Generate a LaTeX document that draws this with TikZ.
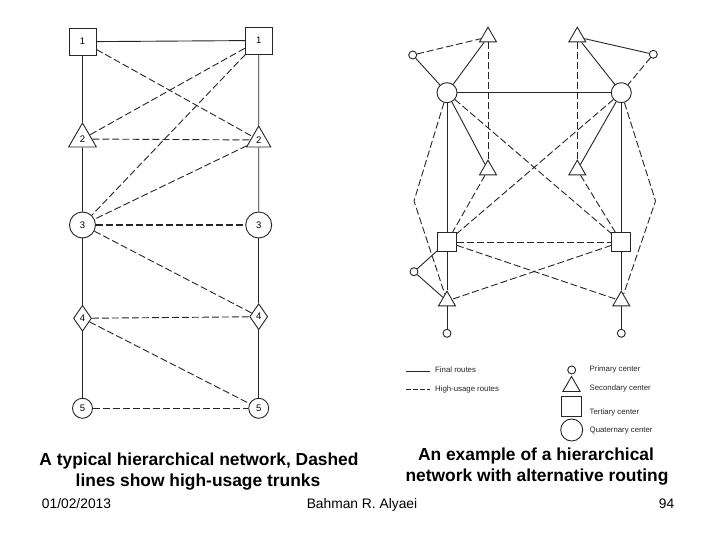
\documentclass[tikz,border=0pt]{standalone}
\usepackage{fontspec}
\setmainfont{Liberation Sans}
\usetikzlibrary{shapes.geometric}
\begin{document}
\begin{tikzpicture}[x=1pt,y=-1pt,
  fin/.style={draw=black!85, line width=0.9pt},
  hu/.style={fin, dash pattern=on 7pt off 3pt},
  sqn/.style={draw=black!85, line width=0.9pt, rectangle, minimum size=#1, inner sep=0pt},
  trin/.style={draw=black!85, line width=0.9pt, regular polygon, regular polygon sides=3, minimum size=#1, inner sep=0pt},
  circn/.style={draw=black!85, line width=0.9pt, circle, minimum size=#1, inner sep=0pt},
  dian/.style={draw=black!85, line width=0.9pt, diamond, minimum width=18pt, minimum height=26pt, inner sep=0pt},
  num/.style={font=\fontsize{9.5}{10}\selectfont},
  pc/.style={circn=8},
  qc/.style={circn=20},
  secc/.style={trin=19.6},
  tc/.style={sqn=19},
  leg/.style={font=\fontsize{7.8}{9}\selectfont, text=black!85, anchor=west, inner sep=0pt},
  captext/.style={font=\fontsize{17.4}{20}\selectfont\bfseries, anchor=base, inner sep=0pt},
  foottext/.style={font=\fontsize{13.8}{16}\selectfont, anchor=base, inner sep=0pt}
]
\fill[white] (0,0) rectangle (720,540);
\useasboundingbox (0,0) rectangle (720,540);

% ---------- left diagram ----------
\node[sqn=27, num] (a1) at (82.5,41.7) {1};
\node[sqn=27, num] (b1) at (258.7,40.5) {1};
\node[trin=32, num] (a2) at (82.5,139) {2};
\node[trin=28, num] (b2) at (258.7,140) {2};
\node[circn=26, num] (a3) at (82.5,225) {3};
\node[circn=26, num] (b3) at (258.7,225) {3};
\node[dian, num] (a4) at (82.5,318.3) {4};
\node[dian, num] (b4) at (258.7,316.7) {4};
\node[circn=20, num] (a5) at (82.5,408.3) {5};
\node[circn=20, num] (b5) at (258.7,408.3) {5};

\draw[fin] (a1) -- (b1);
\draw[fin] (a1) -- (a2);
\draw[fin] (a2) -- (a3);
\draw[fin] (a3) -- (a4);
\draw[fin] (a4) -- (a5);
\draw[fin] (b1) -- (b2);
\draw[fin] (b2) -- (b3);
\draw[fin] (b3) -- (b4);
\draw[fin] (b4) -- (b5);

\draw[hu] (a1) -- (b2);
\draw[hu] (b1) -- (a2);
\draw[hu] (b1) -- (a3);
\draw[hu] (a2) -- (b2);
\draw[hu] (b2) -- (a3);
\draw[hu, line width=1.6pt] (a3) -- (b3);
\draw[hu] (a3) -- (b4);
\draw[hu] (a4) -- (b4);
\draw[hu] (a4) -- (b5);
\draw[hu] (a5) -- (b5);

% ---------- right diagram ----------
\node[pc] (p1) at (412.7,55) {};
\node[pc] (p2) at (653.3,54.3) {};
\node[qc] (q1) at (447,92.7) {};
\node[qc] (q2) at (621.3,92.7) {};
\node[secc] (s1) at (488,37) {};
\node[secc] (s2) at (577.3,37) {};
\node[secc] (s3) at (488,170) {};
\node[secc] (s4) at (577.3,170) {};
\node[tc] (t1) at (447,242) {};
\node[tc] (t2) at (621.3,242) {};
\node[secc] (s5) at (447,301) {};
\node[secc] (s6) at (621.3,301) {};
\node[pc] (p3) at (414,271.7) {};
\node[pc] (p4) at (447,333.3) {};
\node[pc] (p5) at (621.3,333.3) {};
\coordinate (k1) at (414,201);
\coordinate (k2) at (655.5,201);

\draw[fin] (p1) -- (q1);
\draw[fin] (q1) -- (s1);
\draw[fin] (q1) -- (q2);
\draw[fin] (q1) -- (s3);
\draw[fin] (q1) -- (t1);
\draw[fin] (s2) -- (q2);
\draw[fin] (s2) -- (p2);
\draw[fin] (q2) -- (s4);
\draw[fin] (q2) -- (t2);
\draw[fin] (t1) -- (s5);
\draw[fin] (t2) -- (s6);
\draw[fin] (s5) -- (p4);
\draw[fin] (s6) -- (p5);
\draw[fin] (p3) -- (t1);
\draw[fin] (p3) -- (s5);

\draw[hu] (p1) -- (s1);
\draw[hu] (s1) -- (s3);
\draw[hu] (s2) -- (s4);
\draw[hu] (p2) -- (q2);
\draw[hu] (q1) -- (t2);
\draw[hu] (q2) -- (t1);
\draw[hu] (s3) -- (t1);
\draw[hu] (s4) -- (t2);
\draw[hu] (t1) -- (t2);
\draw[hu] (t1) -- (s6);
\draw[hu] (t2) -- (s5);
\draw[hu] (q1) -- (k1) -- (s5);
\draw[hu] (q2) -- (k2) -- (s6);

% ---------- legend ----------
\coordinate (la1) at (406,371);
\coordinate (lb1) at (430,371);
\coordinate (la2) at (406,389.5);
\coordinate (lb2) at (430,389.5);
\draw[fin] (la1) -- (lb1);
\draw[fin, dash pattern=on 5pt off 2pt] (la2) -- (lb2);
\node[leg] (lf) at (435,370) {Final routes};
\node[leg] (lh) at (435,389) {High-usage routes};

\node[pc] (lp) at (571.7,370) {};
\node[trin=20] (ls) at (571.5,386.5) {};
\node[sqn=20] (lt) at (571,406.5) {};
\node[circn=22] (lq) at (571.7,430) {};
\node[leg] (lpt) at (589.5,369.5) {Primary center};
\node[leg] (lst) at (589.5,388.5) {Secondary center};
\node[leg] (ltt) at (589.5,412) {Tertiary center};
\node[leg] (lqt) at (589.5,431) {Quaternary center};

% ---------- captions ----------
\node[captext] (c1) at (199,465) {A typical hierarchical network, Dashed};
\node[captext] (c2) at (198,486) {lines show high-usage trunks};
\node[captext] (c3) at (536,460) {An example of a hierarchical};
\node[captext] (c4) at (537,481) {network with alternative routing};

% ---------- footer ----------
\node[foottext] (f1) at (76.5,508.5) {01/02/2013};
\node[foottext] (f2) at (362,508.5) {Bahman R. Alyaei};
\node[foottext] (f3) at (666.5,508.5) {94};
\end{tikzpicture}
\end{document}
